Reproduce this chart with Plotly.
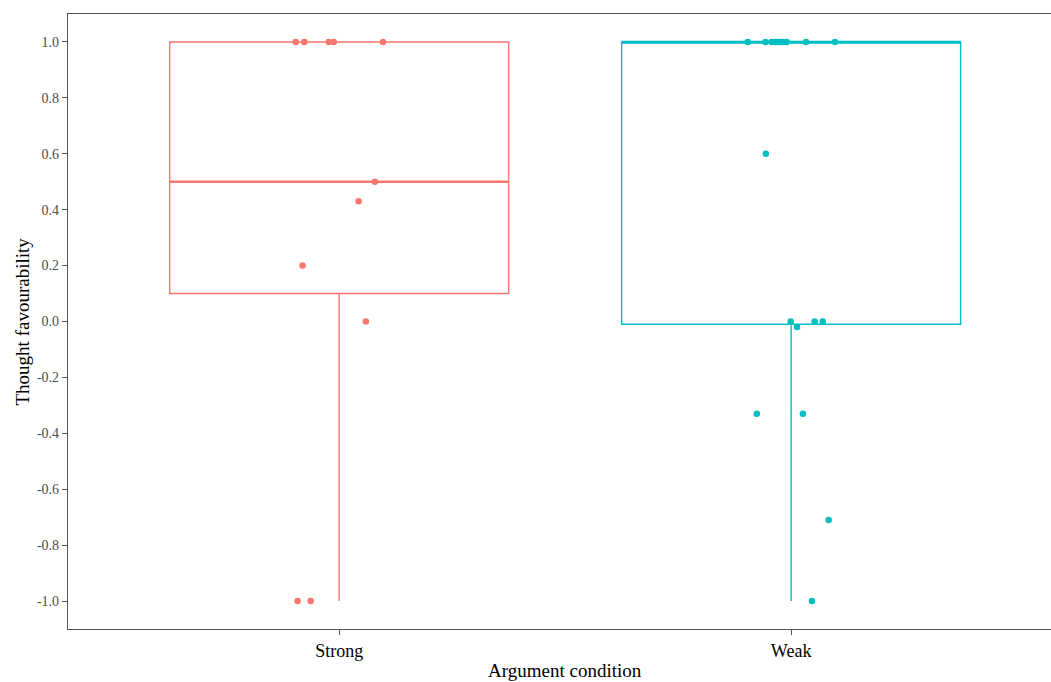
import numpy as np
import plotly.graph_objects as go

# ---- data ----
categories = ["Strong", "Weak"]
cat_pos = [1, 2]
colors = ["#F8766D", "#00BFC4"]

strong_values = [1.0, 1.0, 1.0, 1.0, 1.0, 0.5, 0.43, 0.2, 0.0, -1.0, -1.0]
strong_jitter = [-0.096, -0.077, -0.023, -0.012, 0.097, 0.079, 0.043, -0.081, 0.059, -0.092, -0.063]

weak_values = [1.0, 1.0, 1.0, 1.0, 1.0, 1.0, 1.0, 1.0, 1.0, 1.0,
               0.6, 0.0, 0.0, 0.0, -0.02, -0.33, -0.33, -0.71, -1.0]
weak_jitter = [-0.096, -0.057, -0.043, -0.036, -0.029, -0.023, -0.018, -0.010, 0.033, 0.097,
               -0.056, -0.001, 0.052, 0.070, 0.013, -0.076, 0.026, 0.083, 0.046]

y_tick_vals = [-1.0, -0.8, -0.6, -0.4, -0.2, 0.0, 0.2, 0.4, 0.6, 0.8, 1.0]
y_tick_labels = ["-1.0", "-0.8", "-0.6", "-0.4", "-0.2", "0.0", "0.2", "0.4", "0.6", "0.8", "1.0"]

groups = [strong_values, weak_values]
jitters = [strong_jitter, weak_jitter]
box_width = 0.75


def box_stats(vals):
    v = np.asarray(vals, dtype=float)
    q1, med, q3 = np.percentile(v, [25, 50, 75])
    iqr = q3 - q1
    lo = v[v >= q1 - 1.5 * iqr].min()
    hi = v[v <= q3 + 1.5 * iqr].max()
    return q1, med, q3, lo, hi


fig = go.Figure()
for name, pos, col, vals, jit in zip(categories, cat_pos, colors, groups, jitters):
    q1, med, q3, lo, hi = box_stats(vals)
    fig.add_trace(go.Box(
        x=[pos], q1=[q1], median=[med], q3=[q3],
        lowerfence=[lo], upperfence=[hi], name=name,
        width=box_width, boxpoints=False,
        line=dict(color=col, width=1.4), fillcolor="rgba(0,0,0,0)",
        whiskerwidth=0, showlegend=False, hoverinfo="skip",
    ))
    fig.add_trace(go.Scatter(
        x=[pos - box_width / 2, pos + box_width / 2], y=[med, med],
        mode="lines", line=dict(color=col, width=2.6),
        showlegend=False, hoverinfo="skip",
    ))
    fig.add_trace(go.Scatter(
        x=[pos + j for j in jit], y=vals, mode="markers",
        marker=dict(color=col, size=6.5, line=dict(width=0)),
        showlegend=False,
    ))

axis_col = "#555555"
fig.update_layout(
    width=1051, height=682,
    margin=dict(l=68, r=0, t=14, b=53),
    paper_bgcolor="white", plot_bgcolor="white",
    font=dict(family="Liberation Serif", color="black"),
    xaxis=dict(
        range=[0.4, 2.575], tickvals=cat_pos, ticktext=categories,
        showline=True, linecolor=axis_col, linewidth=1.2, mirror=True,
        ticks="outside", ticklen=5, tickcolor=axis_col, tickwidth=1,
        showgrid=False, zeroline=False,
        tickfont=dict(family="Liberation Serif", size=18, color="black"),
    ),
    yaxis=dict(
        range=[-1.1, 1.1], tickvals=y_tick_vals, ticktext=y_tick_labels,
        showline=True, linecolor=axis_col, linewidth=1.2,
        ticks="outside", ticklen=5, tickcolor=axis_col, tickwidth=1,
        showgrid=False, zeroline=False,
        tickfont=dict(family="Liberation Serif", size=14, color="#4D4D4D"),
    ),
    annotations=[
        dict(text="Thought favourability", xref="paper", yref="paper",
             x=0, y=0.5, xshift=-46, textangle=-90, showarrow=False,
             xanchor="center", yanchor="middle",
             font=dict(family="Liberation Serif", size=19, color="black")),
        dict(text="Argument condition", xref="paper", yref="paper",
             x=0.5061, y=0, yshift=-41, showarrow=False,
             xanchor="center", yanchor="middle",
             font=dict(family="Liberation Serif", size=19, color="black")),
    ],
)

fig.write_html("out.html")
